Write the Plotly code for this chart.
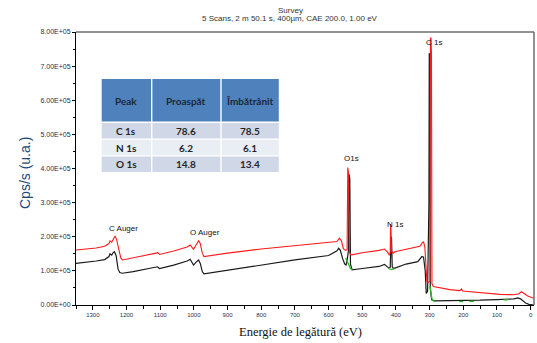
import plotly.graph_objects as go

# ---------------- data ----------------
red_energy = [1350, 1320, 1290, 1265, 1252, 1249, 1244, 1238, 1234, 1229, 1222, 1217, 1212, 1180, 1140,
              1112, 1108, 1102, 1060, 1020, 1011, 1005, 1001, 994, 986, 981, 975, 970, 900, 800, 700,
              600, 575, 568, 562, 556, 550, 545, 543, 541, 538, 535, 531, 500, 450, 434, 425, 420, 417,
              416, 415, 413, 408, 403, 370, 340, 329, 322, 318, 314, 308, 304, 299, 297.5, 296, 294.5,
              293, 289, 270, 240, 210, 205, 202, 170, 130, 91, 50, 35, 27, 20, 10, -3, -10]
red_counts = [1.61e5, 1.63e5, 1.67e5, 1.72e5, 1.80e5, 1.88e5, 1.84e5, 1.95e5, 2.02e5, 1.90e5, 1.55e5, 1.38e5,
              1.32e5, 1.38e5, 1.45e5, 1.52e5, 1.54e5, 1.48e5, 1.58e5, 1.70e5, 1.76e5, 1.70e5, 1.63e5, 1.75e5,
              1.88e5, 1.80e5, 1.52e5, 1.42e5, 1.52e5, 1.64e5, 1.74e5, 1.82e5, 1.86e5, 1.96e5, 1.88e5, 1.65e5,
              1.60e5, 1.62e5, 4.03e5, 3.90e5, 1.55e5, 1.48e5, 1.47e5, 1.53e5, 1.60e5, 1.64e5, 1.55e5, 1.47e5,
              1.52e5, 2.37e5, 2.30e5, 1.58e5, 1.52e5, 1.56e5, 1.64e5, 1.70e5, 1.72e5, 1.82e5, 1.86e5, 1.68e5,
              0.68e5, 0.66e5, 0.70e5, 7.82e5, 7.82e5, 7.40e5, 0.62e5, 0.54e5, 0.50e5, 0.45e5, 0.42e5, 0.47e5,
              0.41e5, 0.38e5, 0.35e5, 0.31e5, 0.30e5, 0.33e5, 0.39e5, 0.33e5, 0.27e5, 0.22e5, 0.20e5]

black_energy = [1350, 1320, 1290, 1265, 1252, 1249, 1244, 1240, 1236, 1231, 1225, 1220, 1212, 1180, 1140,
                1112, 1108, 1102, 1060, 1020, 1011, 1005, 1001, 994, 986, 981, 975, 970, 900, 800, 700,
                600, 575, 570, 565, 558, 552, 548, 545, 541, 539, 537, 535, 530, 500, 450, 434, 428, 421,
                417, 414, 413, 411, 408, 403, 370, 335, 323, 318, 313, 310, 306, 302, 301, 299, 298, 294,
                285, 250, 200, 150, 100, 50, 38, 30, 15, 5, -10]
black_counts = [1.22e5, 1.25e5, 1.29e5, 1.33e5, 1.42e5, 1.50e5, 1.46e5, 1.53e5, 1.56e5, 1.45e5, 1.05e5, 0.95e5,
                0.93e5, 0.98e5, 1.05e5, 1.11e5, 1.12e5, 1.07e5, 1.17e5, 1.29e5, 1.34e5, 1.24e5, 1.17e5, 1.25e5,
                1.32e5, 1.22e5, 0.98e5, 0.91e5, 1.02e5, 1.17e5, 1.32e5, 1.45e5, 1.59e5, 1.66e5, 1.60e5, 1.35e5,
                1.20e5, 1.17e5, 1.30e5, 1.60e5, 3.83e5, 3.70e5, 1.20e5, 1.03e5, 1.07e5, 1.13e5, 1.19e5, 1.14e5,
                1.08e5, 1.10e5, 2.00e5, 1.95e5, 1.12e5, 1.08e5, 1.08e5, 1.20e5, 1.27e5, 1.42e5, 1.40e5, 1.00e5,
                0.34e5, 0.40e5, 3.0e5, 7.38e5, 7.2e5, 0.50e5, 0.15e5, 0.12e5, 0.12e5, 0.12e5, 0.14e5, 0.16e5,
                0.18e5, 0.21e5, 0.18e5, 0.06e5, 0.02e5, 0.0]

green_energy = [549, 545, 540, 535, 530, None, 420, 412, 405, None, 299, 296, 293, 289, 285, None,
                212, 200, None, 182, 168, None, 80, 68]
green_counts = [1.38e5, 1.28e5, 1.16e5, 1.07e5, 1.03e5, None, 1.06e5, 1.04e5, 1.06e5, None, 0.55e5, 0.35e5,
                0.18e5, 0.12e5, 0.11e5, None, 0.10e5, 0.10e5, None, 0.105e5, 0.105e5, None, 0.15e5, 0.15e5]

peak_labels = ["C Auger", "O Auger", "O1s", "N 1s", "C 1s"]
peak_label_energy = [1210, 967, 531, 403, 287]
peak_label_counts = [2.25e5, 2.13e5, 4.28e5, 2.37e5, 7.70e5]

y_tick_values = [0, 1e5, 2e5, 3e5, 4e5, 5e5, 6e5, 7e5, 8e5]
y_tick_labels = ["0.00E+00", "1.00E+05", "2.00E+05", "3.00E+05", "4.00E+05",
                 "5.00E+05", "6.00E+05", "7.00E+05", "8.00E+05"]
x_tick_values = [1300, 1200, 1100, 1000, 900, 800, 700, 600, 500, 400, 300, 200, 100, 0]

table_header = ["Peak", "Proaspăt", "Îmbătrânit"]
table_peaks = ["C 1s", "N 1s", "O 1s"]
table_fresh = ["78.6", "6.2", "14.8"]
table_aged = ["78.5", "6.1", "13.4"]

# ---------------- figure ----------------
W, H = 537, 343
ML, MR, MT, MB = 76, 3, 32, 38
PW, PH = W - ML - MR, H - MT - MB


def px(xp):
    return (xp - ML) / PW


def py(yp):
    return (H - MB - yp) / PH


fig = go.Figure()

fig.add_trace(go.Scatter(x=black_energy, y=black_counts, mode="lines",
                         line=dict(color="#1a1a1a", width=1.2), showlegend=False))
fig.add_trace(go.Scatter(x=green_energy, y=green_counts, mode="lines", connectgaps=False,
                         line=dict(color="#22c022", width=1.3), showlegend=False))
fig.add_trace(go.Scatter(x=red_energy, y=red_counts, mode="lines",
                         line=dict(color="#ff1a1a", width=1.1), showlegend=False))

# ---- table drawn with shapes + text ----
col_edges = [101, 151.7, 221, 279.5]          # pixel positions
header_box = (79, 121.5)
row_boxes = [(123, 138.5), (139.8, 155.3), (156.6, 172)]
row_fill = ["#D0D8E8", "#E9EDF4", "#D0D8E8"]
columns = [table_peaks, table_fresh, table_aged]

for c in range(3):
    x0, x1 = col_edges[c] + 0.7, col_edges[c + 1] - 0.7
    fig.add_shape(type="rect", xref="paper", yref="paper", x0=px(x0), x1=px(x1),
                  y0=py(header_box[1]), y1=py(header_box[0]),
                  fillcolor="#4F81BD", line=dict(width=0), layer="above")
    fig.add_annotation(xref="paper", yref="paper", x=px((x0 + x1) / 2),
                       y=py((header_box[0] + header_box[1]) / 2 + 1),
                       text="<b>%s</b>" % table_header[c], showarrow=False,
                       xanchor="center", yanchor="middle",
                       font=dict(family="Lato", size=10, color="#1b2838"))
    for r in range(3):
        y0, y1 = row_boxes[r]
        fig.add_shape(type="rect", xref="paper", yref="paper", x0=px(x0), x1=px(x1),
                      y0=py(y1), y1=py(y0), fillcolor=row_fill[r], line=dict(width=0), layer="above")
        fig.add_annotation(xref="paper", yref="paper", x=px((x0 + x1) / 2), y=py((y0 + y1) / 2),
                           text="<b>%s</b>" % columns[c][r], showarrow=False,
                           xanchor="center", yanchor="middle",
                           font=dict(family="Lato", size=10, color="#262626"))

for txt, xe, yc in zip(peak_labels, peak_label_energy, peak_label_counts):
    fig.add_annotation(x=xe, y=yc, text=txt, showarrow=False, xanchor="center", yanchor="middle",
                       font=dict(family="Arial", size=8, color="#111111"))

# frame top/right (gray)
fig.add_shape(type="line", xref="paper", yref="paper", x0=0, x1=1, y0=1, y1=1,
              line=dict(color="#6e6e6e", width=1.5))
fig.add_shape(type="line", xref="paper", yref="paper", x0=1, x1=1, y0=0, y1=1,
              line=dict(color="#6e6e6e", width=1.5))

# titles
fig.add_annotation(xref="paper", yref="paper", x=px(290), y=py(10), text="Survey",
                   showarrow=False, xanchor="center", yanchor="middle",
                   font=dict(family="Arial", size=8, color="#333333"))
fig.add_annotation(xref="paper", yref="paper", x=px(290), y=py(18.5),
                   text="5 Scans, 2 m 50.1 s, 400µm, CAE 200.0, 1.00 eV",
                   showarrow=False, xanchor="center", yanchor="middle",
                   font=dict(family="Arial", size=8, color="#333333"))
fig.add_annotation(xref="paper", yref="paper", x=px(25), y=py(173), text="Cps/s (u.a.)",
                   textangle=-90, showarrow=False, xanchor="center", yanchor="middle",
                   font=dict(family="Arial", size=14, color="#1F497D"))
fig.add_annotation(xref="paper", yref="paper", x=px(300), y=py(332), text="Energie de legătură (eV)",
                   showarrow=False, xanchor="center", yanchor="middle",
                   font=dict(family="Liberation Serif", size=12.5, color="#111111"))

fig.update_layout(
    width=W, height=H,
    margin=dict(l=ML, r=MR, t=MT, b=MB),
    paper_bgcolor="white", plot_bgcolor="white",
    xaxis=dict(range=[1350, -10], tickvals=x_tick_values, showgrid=False, zeroline=False,
               showline=True, linecolor="black", linewidth=1,
               ticks="outside", ticklen=4, tickcolor="black", tickwidth=1,
               minor=dict(dtick=50, ticks="outside", ticklen=3, tickcolor="black"),
               tickfont=dict(family="Arial", size=6, color="#1F3050")),
    yaxis=dict(range=[0, 8e5], tickvals=y_tick_values, ticktext=y_tick_labels,
               showgrid=False, zeroline=False,
               showline=True, linecolor="black", linewidth=1,
               ticks="outside", ticklen=3, tickcolor="black", tickwidth=1,
               minor=dict(dtick=5e4, ticks="outside", ticklen=2, tickcolor="black"),
               tickfont=dict(family="Arial", size=7, color="#1F3050")),
)

fig.write_html("out.html", config={"displayModeBar": False},
               post_script="document.body.style.margin='0';document.body.style.overflow='hidden';")
